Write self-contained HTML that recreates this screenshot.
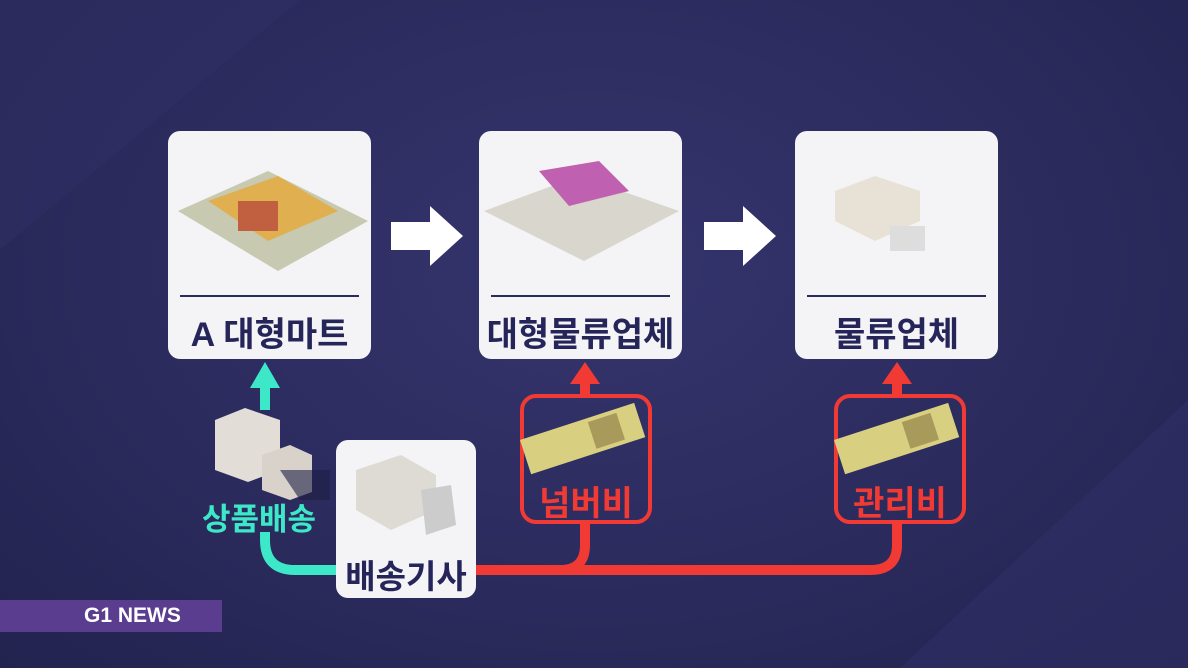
<!DOCTYPE html><html><head><meta charset="utf-8"><style>
body{margin:0;width:1188px;height:668px;overflow:hidden;background:radial-gradient(ellipse at 50% 40%,#35356e 0%,#2a2a5c 60%,#232350 100%);font-family:"Liberation Sans","Noto Sans CJK KR",sans-serif;position:relative}
.box{position:absolute;background:#f4f4f6;border-radius:12px}
.lbl{position:absolute;left:0;right:0;text-align:center;font-weight:bold;color:#25255a;font-size:34px}
.div{position:absolute;left:12px;right:12px;top:164px;height:2px;background:#2b2b5e}
.abs{position:absolute}
</style></head><body>
<svg class="abs" style="left:0;top:0" width="1188" height="668">
<polygon points="0,0 300,0 0,250" fill="#302f66" opacity=".5"/>
<polygon points="900,668 1188,400 1188,668" fill="#303068" opacity=".5"/>
<polygon points="391,222 430,222 430,206 463,236 430,266 430,250 391,250" fill="#fff"/>
<polygon points="704,222 743,222 743,206 776,236 743,266 743,250 704,250" fill="#fff"/>
<path d="M336,570 H295 Q265,570 265,540 V532" stroke="#3de8c8" stroke-width="10" fill="none"/>
<path d="M265,410 V385" stroke="#3de8c8" stroke-width="10" fill="none"/>
<polygon points="250,388 265,362 280,388" fill="#3de8c8"/>
<path d="M476,570 H870 Q897,570 897,545 V523 M560,570 Q585,570 585,545 V523 M585,394 V380 M897,394 V380" stroke="#f23a34" stroke-width="10" fill="none"/>
<polygon points="570,384 585,362 600,384" fill="#f23a34"/>
<polygon points="882,384 897,362 912,384" fill="#f23a34"/>
<rect x="522" y="396" width="128" height="126" rx="14" fill="none" stroke="#f23a34" stroke-width="4"/>
<rect x="836" y="396" width="128" height="126" rx="14" fill="none" stroke="#f23a34" stroke-width="4"/>
<g transform="translate(520,440) rotate(-18)"><rect x="0" y="0" width="120" height="36" fill="#d8cf80"/><rect x="70" y="4" width="30" height="28" fill="#a89a5a"/></g>
<g transform="translate(834,440) rotate(-18)"><rect x="0" y="0" width="120" height="36" fill="#d8cf80"/><rect x="70" y="4" width="30" height="28" fill="#a89a5a"/></g>
<polygon points="215,420 245,408 280,420 280,470 248,482 215,470" fill="#e2ddd6"/>
<polygon points="262,455 290,445 312,455 312,492 290,500 262,490" fill="#d8d2ca"/>
<polygon points="280,470 330,470 330,500 300,500" fill="#1e1e45" opacity=".6"/>
</svg>
<div class="box" style="left:168px;top:131px;width:203px;height:228px">
<svg class="abs" style="left:0;top:20px" width="203" height="130"><polygon points="10,60 100,20 200,70 110,120" fill="#c7c9b0"/><polygon points="40,50 110,25 170,60 100,90" fill="#e0b050"/><rect x="70" y="50" width="40" height="30" fill="#c06040"/></svg>
<div class="div"></div><div class="lbl" style="top:176px">A 대형마트</div></div>
<div class="box" style="left:479px;top:131px;width:203px;height:228px">
<svg class="abs" style="left:0;top:20px" width="203" height="130"><polygon points="5,60 100,25 200,60 105,110" fill="#d9d6ce"/><polygon points="60,20 120,10 150,40 90,55" fill="#c060b0"/></svg>
<div class="div"></div><div class="lbl" style="top:176px">대형물류업체</div></div>
<div class="box" style="left:795px;top:131px;width:203px;height:228px">
<svg class="abs" style="left:0;top:20px" width="203" height="130"><polygon points="40,40 80,25 125,40 125,70 80,90 40,70" fill="#e8e2d6"/><rect x="95" y="75" width="35" height="25" fill="#ddd"/></svg>
<div class="div"></div><div class="lbl" style="top:176px">물류업체</div></div>
<div class="box" style="left:336px;top:440px;width:140px;height:158px">
<svg class="abs" style="left:15px;top:10px" width="115" height="90"><polygon points="5,20 50,5 85,25 85,60 40,80 5,60" fill="#dedad4"/><polygon points="70,40 100,35 105,75 75,85" fill="#ccc"/></svg>
<div class="lbl" style="top:110px;font-size:33px">배송기사</div></div>
<div class="abs" style="left:202px;top:494px;font-size:31px;font-weight:bold;color:#3de8c8">상품배송</div>
<div class="abs" style="left:522px;top:476px;width:128px;text-align:center;font-size:34px;font-weight:bold;color:#f23a34">넘버비</div>
<div class="abs" style="left:836px;top:476px;width:128px;text-align:center;font-size:34px;font-weight:bold;color:#f23a34">관리비</div>
<div class="abs" style="left:0;top:600px;width:222px;height:32px;background:#5b3d8f"></div>
<div class="abs" style="left:84px;top:604px;color:#fff;font-weight:bold;font-size:21px">G1 NEWS</div>
</body></html>
